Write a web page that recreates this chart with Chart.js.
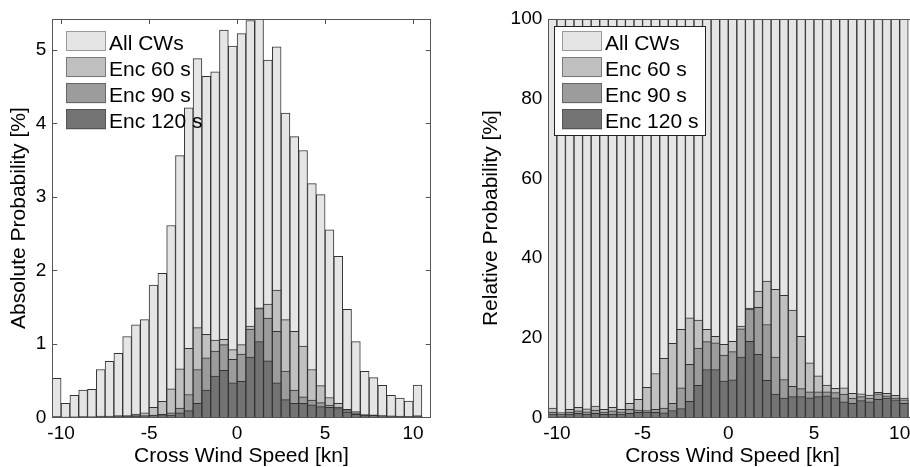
<!DOCTYPE html>
<html>
<head>
<meta charset="utf-8">
<script src="https://cdn.jsdelivr.net/npm/chart.js@4.4.0/dist/chart.umd.min.js"></script>
<style>
  html, body { margin: 0; padding: 0; background: #fff; overflow: hidden; }
  body { width: 910px; height: 467px; position: relative; }
  #absWrap { position: absolute; left: 0; top: 0; width: 455px; height: 467px; }
  #relWrap { position: absolute; left: 455px; top: 0; width: 470px; height: 467px; }
</style>
</head>
<body>
<div id="absWrap"><canvas id="absChart"></canvas></div>
<div id="relWrap"><canvas id="relChart"></canvas></div>
<script>
// bin centres of the cross wind histogram [kn]
const binCenters = [-10.25, -9.75, -9.25, -8.75, -8.25, -7.75, -7.25, -6.75, -6.25, -5.75, -5.25,
    -4.75, -4.25, -3.75, -3.25, -2.75, -2.25, -1.75, -1.25, -0.75, -0.25,
    0.25, 0.75, 1.25, 1.75, 2.25, 2.75, 3.25, 3.75, 4.25, 4.75,
    5.25, 5.75, 6.25, 6.75, 7.25, 7.75, 8.25, 8.75, 9.25, 9.75, 10.25];

const seriesNames = ['All CWs', 'Enc 60 s', 'Enc 90 s', 'Enc 120 s'];

// absolute probability [%]
const absAll = [0.53, 0.19, 0.30, 0.37, 0.38, 0.65, 0.76, 0.87, 1.10, 1.26, 1.33,
    1.80, 1.96, 2.61, 3.56, 4.21, 4.88, 4.64, 4.70, 5.27, 5.05,
    5.22, 5.40, 5.42, 4.86, 5.04, 4.14, 3.82, 3.63, 3.18, 3.03,
    2.55, 2.19, 1.47, 1.03, 0.625, 0.54, 0.435, 0.30, 0.26, 0.22, 0.44];
const absEnc60 = [0.012, 0.003, 0.006, 0.009, 0.008, 0.018, 0.015, 0.022, 0.022, 0.044, 0.06,
    0.135, 0.216, 0.386, 0.66, 0.94, 1.22, 1.13, 1.05, 1.06, 0.92,
    0.99, 1.24, 1.49, 1.54, 1.73, 1.33, 1.17, 0.97, 0.65, 0.43,
    0.27, 0.19, 0.107, 0.077, 0.038, 0.032, 0.024, 0.019, 0.016, 0.012, 0.021];
const absEnc90 = [0.007, 0.002, 0.004, 0.006, 0.005, 0.012, 0.010, 0.014, 0.015, 0.025, 0.024,
    0.031, 0.039, 0.06, 0.125, 0.31, 0.65, 0.81, 0.90, 0.99, 0.79,
    0.86, 1.20, 1.48, 1.35, 1.17, 0.63, 0.37, 0.28, 0.235, 0.20,
    0.165, 0.14, 0.091, 0.06, 0.03, 0.028, 0.021, 0.018, 0.014, 0.011, 0.019];
const absEnc120 = [0.004, 0.001, 0.002, 0.004, 0.003, 0.0065, 0.006, 0.007, 0.009, 0.013, 0.017,
    0.023, 0.025, 0.029, 0.06, 0.09, 0.19, 0.37, 0.56, 0.64, 0.47,
    0.49, 0.82, 1.03, 0.77, 0.47, 0.24, 0.19, 0.19, 0.17, 0.145,
    0.136, 0.12, 0.072, 0.04, 0.022, 0.023, 0.017, 0.0135, 0.0125, 0.0097, 0.0154];

// relative probability [%]
const relAll = [100, 100, 100, 100, 100, 100, 100, 100, 100, 100, 100,
    100, 100, 100, 100, 100, 100, 100, 100, 100, 100,
    100, 100, 100, 100, 100, 100, 100, 100, 100, 100,
    100, 100, 100, 100, 100, 100, 100, 100, 100, 100, 100];
const relEnc60 = [2.3, 1.2, 2.0, 2.5, 2.1, 2.8, 2.0, 2.5, 2.0, 3.5, 4.5,
    7.5, 11.0, 14.8, 18.6, 22.1, 25.0, 24.4, 22.1, 20.3, 18.3,
    19.1, 22.9, 27.4, 31.7, 34.2, 32.1, 30.6, 26.9, 20.3, 13.7,
    10.4, 8.1, 7.3, 7.4, 6.0, 5.9, 5.6, 6.3, 6.0, 5.5, 4.8];
const relEnc90 = [1.3, 0.8, 1.3, 1.6, 1.4, 1.8, 1.3, 1.6, 1.4, 2.0, 1.8,
    1.7, 2.0, 2.3, 3.5, 7.4, 13.3, 17.4, 19.0, 18.7, 15.6,
    16.5, 22.2, 27.2, 27.6, 23.3, 15.1, 9.5, 7.8, 7.2, 6.4,
    6.4, 6.4, 6.2, 5.8, 4.8, 5.2, 4.8, 5.9, 5.4, 4.9, 4.4];
const relEnc120 = [0.8, 0.4, 0.8, 1.0, 0.8, 1.0, 0.75, 0.8, 0.8, 1.0, 1.25,
    1.3, 1.25, 1.1, 1.7, 2.2, 4.0, 8.0, 12.0, 12.0, 9.1,
    9.4, 15.1, 19.1, 15.8, 9.3, 5.8, 4.8, 5.2, 5.2, 4.9,
    5.2, 5.4, 4.9, 3.9, 3.5, 4.2, 3.9, 4.5, 4.8, 4.4, 3.5];

// tick labels
const xTicks = [-10, -5, 0, 5, 10];
const absYTicks = [0, 1, 2, 3, 4, 5];
const relYTicks = [0, 20, 40, 60, 80, 100];

const fills = ['#e5e5e5', '#c0c0c0', '#9c9c9c', '#737373'];
const swatchBorders = ['#9a9a9a', '#7a7a7a', '#666666', '#555555'];
const fontFamily = '"Liberation Sans", Arial, Helvetica, sans-serif';

// axes box + inward ticks, drawn like MATLAB (ticks below the bars)
const framePlugin = {
    id: 'frame',
    beforeDatasetsDraw(chart) {
        const { ctx, chartArea: a, scales } = chart;
        const len = 5;
        ctx.save();
        ctx.strokeStyle = '#555';
        ctx.lineWidth = 1;
        ctx.beginPath();
        scales.x.ticks.forEach(t => {
            const px = Math.round(scales.x.getPixelForValue(t.value)) + 0.5;
            ctx.moveTo(px, a.bottom); ctx.lineTo(px, a.bottom - len);
            ctx.moveTo(px, a.top); ctx.lineTo(px, a.top + len);
        });
        scales.y.ticks.forEach(t => {
            const py = Math.round(scales.y.getPixelForValue(t.value)) + 0.5;
            ctx.moveTo(a.left, py); ctx.lineTo(a.left + len, py);
            ctx.moveTo(a.right, py); ctx.lineTo(a.right - len, py);
        });
        ctx.stroke();
        ctx.restore();
    },
    afterDatasetsDraw(chart) {
        const { ctx, chartArea: a } = chart;
        ctx.save();
        ctx.strokeStyle = '#555';
        ctx.lineWidth = 1;
        ctx.strokeRect(Math.round(a.left) + 0.5, Math.round(a.top) + 0.5,
            Math.round(a.right - a.left), Math.round(a.bottom - a.top));
        ctx.restore();
    }
};

// legend in the upper left corner of the axes
const boxLegendPlugin = {
    id: 'boxLegend',
    afterDraw(chart, args, opts) {
        const { ctx, chartArea: a } = chart;
        ctx.save();
        if (opts.boxed) {
            ctx.fillStyle = '#fff';
            ctx.fillRect(a.left + 6, 26, 151, 109);
            ctx.strokeStyle = '#222';
            ctx.lineWidth = 1;
            ctx.strokeRect(Math.round(a.left + 6) + 0.5, 26.5, 151, 109);
        }
        ctx.font = '21px ' + fontFamily;
        ctx.textBaseline = 'alphabetic';
        seriesNames.forEach((name, i) => {
            const x = Math.round(a.left + 13.4);
            const y = 31 + i * 26.1;
            ctx.fillStyle = fills[i];
            ctx.fillRect(x, y, 40, 20);
            ctx.strokeStyle = swatchBorders[i];
            ctx.strokeRect(x + 0.5, Math.round(y) + 0.5, 39, 19);
            ctx.fillStyle = '#000';
            ctx.fillText(name, x + 43, y + 19);
        });
        ctx.restore();
    }
};

function makeDatasets(values) {
    return values.map((arr, i) => ({
        label: seriesNames[i],
        data: binCenters.map((x, j) => ({ x: x, y: arr[j] })),
        backgroundColor: fills[i],
        borderColor: '#333',
        borderWidth: 1,
        order: values.length - i
    }));
}

function makeChart(canvasId, values, yMax, yTicks, yTitle, yWidth, yTitlePad, padRight) {
    const tickFont = { family: fontFamily, size: 19 };
    const titleFont = { family: fontFamily, size: 21, lineHeight: 1 };
    return new Chart(document.getElementById(canvasId), {
        type: 'bar',
        data: { datasets: makeDatasets(values) },
        options: {
            responsive: true,
            maintainAspectRatio: false,
            animation: false,
            events: [],
            layout: { padding: { top: 19, right: padRight, left: 0, bottom: 0 } },
            datasets: { bar: { grouped: false, barPercentage: 1, categoryPercentage: 1 } },
            plugins: {
                legend: { display: false },
                tooltip: { enabled: false },
                boxLegend: { boxed: canvasId === 'relChart' }
            },
            scales: {
                x: {
                    type: 'linear',
                    offset: false,
                    min: -10.5,
                    max: 11,
                    afterBuildTicks: s => { s.ticks = xTicks.map(v => ({ value: v })); },
                    afterFit: s => { s.height = 49.7; },
                    grid: { display: false, drawTicks: false, offset: false },
                    border: { display: false },
                    ticks: { color: '#000', font: tickFont, padding: 5, maxRotation: 0 },
                    title: { display: true, text: 'Cross Wind Speed [kn]', color: '#000', font: titleFont, padding: 0 }
                },
                y: {
                    min: 0,
                    max: yMax,
                    afterBuildTicks: s => { s.ticks = yTicks.map(v => ({ value: v })); },
                    afterFit: s => { s.width = yWidth; },
                    grid: { display: false, drawTicks: false },
                    border: { display: false },
                    ticks: { color: '#000', font: tickFont, padding: 6 },
                    title: { display: true, text: yTitle, color: '#000', font: titleFont, padding: { top: yTitlePad, bottom: 0 } }
                }
            }
        },
        plugins: [framePlugin, boxLegendPlugin]
    });
}

makeChart('absChart', [absAll, absEnc60, absEnc90, absEnc120], 5.42, absYTicks,
    'Absolute Probability [%]', 52.3, 9, 24.3);
makeChart('relChart', [relAll, relEnc60, relEnc90, relEnc120], 100, relYTicks,
    'Relative Probability [%]', 93.3, 25.5, 8.2);
</script>
</body>
</html>
